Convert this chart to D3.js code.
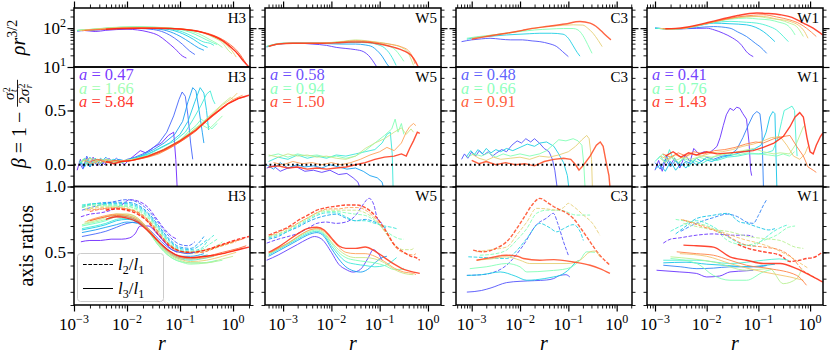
<!DOCTYPE html>
<html><head><meta charset="utf-8">
<script src="https://cdn.jsdelivr.net/npm/d3@7"></script>
<style>body{margin:0;background:#fff}svg{display:block}text{font-family:"Liberation Serif","Times New Roman",serif;fill:#000}</style>
</head><body><svg id="c" width="831" height="358"></svg>
<script>
// ---------- DATA: each line is a list of [log10 r, value] ----------
const panelNames = ["H3", "W5", "C3", "W1"];
const h3ALabels = ["0.47", "1.66", "5.84"];
const w5ALabels = ["0.58", "0.94", "1.50"];
const c3ALabels = ["0.48", "0.66", "0.91"];
const w1ALabels = ["0.41", "0.76", "1.43"];
const xTickExps = [-3, -2, -1, 0];

const h3Density = [
 [[-2.94,85],[-2.8,87],[-2.6,82],[-2.4,88],[-2.2,92],[-2.0,94],[-1.8,90],[-1.6,80],[-1.4,64],[-1.25,45],[-1.1,30],[-0.95,19],[-0.88,17]],
 [[-2.94,86],[-2.7,88],[-2.4,93],[-2.1,97],[-1.8,98],[-1.5,92],[-1.3,78],[-1.1,55],[-0.95,38],[-0.82,26],[-0.72,21]],
 [[-2.94,86],[-2.7,89],[-2.4,95],[-2.1,100],[-1.8,101],[-1.5,97],[-1.25,86],[-1.0,62],[-0.8,42],[-0.65,31],[-0.55,27]],
 [[-2.94,87],[-2.7,90],[-2.4,97],[-2.1,102],[-1.8,104],[-1.5,100],[-1.2,92],[-0.95,72],[-0.75,52],[-0.6,38],[-0.48,32]],
 [[-2.94,87],[-2.7,91],[-2.4,98],[-2.1,104],[-1.8,106],[-1.5,103],[-1.2,96],[-0.95,80],[-0.75,60],[-0.55,44],[-0.42,40],[-0.36,36]],
 [[-2.94,88],[-2.7,92],[-2.4,100],[-2.1,106],[-1.8,108],[-1.5,106],[-1.2,100],[-0.9,86],[-0.7,68],[-0.5,50],[-0.38,42],[-0.3,38]],
 [[-2.94,88],[-2.7,93],[-2.4,101],[-2.1,107],[-1.8,108],[-1.5,106],[-1.2,101],[-0.9,90],[-0.65,72],[-0.45,52],[-0.3,40],[-0.2,32]],
 [[-2.9,88],[-2.6,95],[-2.3,102],[-2.0,106],[-1.7,106],[-1.4,104],[-1.1,99],[-0.8,90],[-0.55,75],[-0.35,56],[-0.2,42],[-0.08,26],[-0.02,22]],
 [[-2.9,87],[-2.6,94],[-2.3,100],[-2.0,104],[-1.7,104],[-1.4,102],[-1.1,98],[-0.8,90],[-0.55,76],[-0.35,60],[-0.15,40],[0.0,24],[0.06,18]],
 [[-2.85,86],[-2.6,92],[-2.3,98],[-2.0,102],[-1.7,102],[-1.4,101],[-1.1,97],[-0.8,89],[-0.55,76],[-0.35,61],[-0.15,44],[0.05,25],[0.18,15]],
 [[-2.8,88],[-2.5,92],[-2.2,97],[-1.9,100],[-1.6,100],[-1.3,99],[-1.0,95],[-0.75,87],[-0.5,75],[-0.3,60],[-0.1,42],[0.1,24],[0.25,12]],
 [[-2.4,94],[-2.1,98],[-1.8,100],[-1.5,100],[-1.2,98],[-0.95,94],[-0.74,87],[-0.55,76],[-0.36,62],[-0.2,48],[-0.05,33],[0.1,21],[0.2,14],[0.3,10]]
];
const h3Beta = [
 [[-2.94,-0.05],[-2.88,0.05],[-2.82,-0.03],[-2.76,0.06],[-2.7,-0.02],[-2.64,0.07],[-2.57,-0.01],[-2.5,0.05],[-2.42,0.0],[-2.34,0.06],[-2.25,0.01],[-2.15,0.04],[-2.05,0.0],[-1.95,0.05],[-1.85,0.09],[-1.75,0.13],[-1.65,0.11],[-1.5,0.16],[-1.35,0.2],[-1.22,0.27],[-1.12,0.3],[-1.08,0.05],[-1.05,-0.25]],
 [[-2.9,0.02],[-2.83,-0.04],[-2.76,0.08],[-2.68,0.0],[-2.6,0.06],[-2.5,-0.01],[-2.4,0.05],[-2.3,0.02],[-2.2,0.06],[-2.1,0.02],[-2.0,0.05],[-1.85,0.07],[-1.7,0.1],[-1.55,0.14],[-1.4,0.2],[-1.25,0.3],[-1.12,0.45],[-1.02,0.6],[-0.96,0.67],[-0.9,0.63],[-0.85,0.45],[-0.8,0.2],[-0.76,0.05]],
 [[-2.9,0.0],[-2.8,0.06],[-2.7,-0.02],[-2.6,0.05],[-2.5,0.01],[-2.4,0.07],[-2.3,0.02],[-2.15,0.05],[-2.0,0.03],[-1.85,0.06],[-1.7,0.09],[-1.5,0.14],[-1.3,0.2],[-1.1,0.28],[-0.95,0.4],[-0.85,0.58],[-0.76,0.71],[-0.7,0.68],[-0.64,0.5],[-0.58,0.3],[-0.55,0.2]],
 [[-2.9,0.03],[-2.8,-0.02],[-2.7,0.07],[-2.6,0.01],[-2.5,0.06],[-2.4,0.02],[-2.25,0.05],[-2.1,0.02],[-1.95,0.05],[-1.8,0.07],[-1.6,0.1],[-1.4,0.15],[-1.2,0.2],[-1.0,0.28],[-0.85,0.4],[-0.72,0.58],[-0.62,0.71],[-0.55,0.66],[-0.5,0.5],[-0.46,0.32]],
 [[-2.9,0.01],[-2.8,0.05],[-2.7,-0.01],[-2.6,0.06],[-2.5,0.02],[-2.35,0.05],[-2.2,0.02],[-2.05,0.04],[-1.9,0.05],[-1.7,0.08],[-1.5,0.12],[-1.3,0.17],[-1.1,0.22],[-0.9,0.3],[-0.75,0.42],[-0.6,0.55],[-0.5,0.65],[-0.43,0.68],[-0.38,0.6],[-0.34,0.56]],
 [[-2.9,0.04],[-2.8,0.0],[-2.7,0.06],[-2.6,0.02],[-2.45,0.05],[-2.3,0.01],[-2.15,0.04],[-2.0,0.03],[-1.8,0.06],[-1.6,0.09],[-1.4,0.12],[-1.2,0.17],[-1.0,0.22],[-0.85,0.3],[-0.7,0.36],[-0.6,0.42],[-0.5,0.38],[-0.4,0.33],[-0.3,0.38]],
 [[-2.9,0.02],[-2.8,0.06],[-2.7,0.01],[-2.55,0.05],[-2.4,0.02],[-2.25,0.04],[-2.1,0.02],[-1.9,0.05],[-1.7,0.07],[-1.5,0.1],[-1.3,0.14],[-1.1,0.19],[-0.9,0.26],[-0.75,0.32],[-0.6,0.37],[-0.45,0.33],[-0.3,0.4],[-0.2,0.45]],
 [[-2.85,0.05],[-2.75,0.01],[-2.65,0.06],[-2.5,0.02],[-2.35,0.05],[-2.2,0.02],[-2.0,0.04],[-1.8,0.06],[-1.6,0.08],[-1.4,0.12],[-1.2,0.17],[-1.0,0.23],[-0.8,0.3],[-0.6,0.38],[-0.4,0.47],[-0.2,0.56],[-0.05,0.62],[0.0,0.6]],
 [[-2.85,0.03],[-2.7,0.06],[-2.55,0.01],[-2.4,0.05],[-2.25,0.02],[-2.05,0.04],[-1.85,0.05],[-1.6,0.08],[-1.4,0.11],[-1.2,0.16],[-1.0,0.22],[-0.8,0.29],[-0.6,0.37],[-0.4,0.46],[-0.2,0.55],[0.0,0.62],[0.08,0.66]],
 [[-2.8,0.04],[-2.65,0.01],[-2.5,0.05],[-2.35,0.02],[-2.2,0.04],[-2.0,0.03],[-1.8,0.05],[-1.6,0.07],[-1.4,0.1],[-1.2,0.15],[-1.0,0.21],[-0.8,0.28],[-0.6,0.36],[-0.4,0.45],[-0.2,0.53],[0.0,0.6],[0.18,0.64]],
 [[-2.7,0.03],[-2.55,0.05],[-2.4,0.02],[-2.25,0.04],[-2.1,0.03],[-1.9,0.04],[-1.7,0.06],[-1.5,0.09],[-1.3,0.13],[-1.1,0.18],[-0.9,0.24],[-0.7,0.31],[-0.5,0.4],[-0.3,0.48],[-0.1,0.56],[0.1,0.61],[0.25,0.63]],
 [[-2.4,0.03],[-2.25,0.01],[-2.1,0.03],[-1.9,0.04],[-1.6,0.08],[-1.3,0.14],[-1.0,0.22],[-0.7,0.32],[-0.4,0.45],[-0.1,0.56],[0.1,0.61],[0.3,0.64]]
];
const h3L2 = [
 [[-2.87,0.77],[-2.7,0.79],[-2.5,0.8],[-2.3,0.82],[-2.1,0.86],[-1.95,0.9],[-1.8,0.89],[-1.6,0.84],[-1.45,0.76],[-1.3,0.68],[-1.15,0.62],[-1.05,0.6]],
 [[-2.85,0.82],[-2.6,0.85],[-2.3,0.88],[-2.0,0.9],[-1.8,0.88],[-1.6,0.82],[-1.4,0.72],[-1.2,0.62],[-1.0,0.56],[-0.85,0.55],[-0.72,0.58]],
 [[-2.85,0.84],[-2.6,0.87],[-2.3,0.88],[-2.0,0.88],[-1.8,0.86],[-1.6,0.8],[-1.4,0.7],[-1.2,0.6],[-1.0,0.54],[-0.8,0.53],[-0.65,0.57],[-0.55,0.62]],
 [[-2.85,0.85],[-2.6,0.87],[-2.3,0.87],[-2.0,0.87],[-1.8,0.85],[-1.6,0.79],[-1.4,0.69],[-1.2,0.59],[-1.0,0.53],[-0.8,0.52],[-0.6,0.56],[-0.48,0.6]],
 [[-2.85,0.86],[-2.6,0.87],[-2.3,0.86],[-2.0,0.86],[-1.8,0.84],[-1.6,0.78],[-1.4,0.68],[-1.2,0.58],[-1.0,0.52],[-0.8,0.51],[-0.6,0.53],[-0.45,0.6],[-0.36,0.63]],
 [[-2.85,0.85],[-2.6,0.86],[-2.3,0.86],[-2.0,0.85],[-1.8,0.83],[-1.6,0.77],[-1.4,0.67],[-1.2,0.57],[-1.0,0.51],[-0.8,0.5],[-0.6,0.52],[-0.45,0.56],[-0.3,0.6]],
 [[-2.85,0.84],[-2.6,0.86],[-2.3,0.85],[-2.0,0.85],[-1.8,0.82],[-1.6,0.76],[-1.4,0.66],[-1.2,0.56],[-1.0,0.51],[-0.8,0.5],[-0.6,0.51],[-0.4,0.53],[-0.2,0.58]],
 [[-2.8,0.83],[-2.5,0.85],[-2.2,0.85],[-2.0,0.84],[-1.8,0.81],[-1.6,0.75],[-1.4,0.65],[-1.2,0.56],[-1.0,0.51],[-0.8,0.5],[-0.5,0.52],[-0.2,0.55],[0.0,0.58]],
 [[-2.8,0.82],[-2.5,0.84],[-2.2,0.84],[-2.0,0.83],[-1.8,0.8],[-1.6,0.74],[-1.4,0.64],[-1.2,0.55],[-1.0,0.5],[-0.8,0.49],[-0.5,0.51],[-0.2,0.55],[0.06,0.58]],
 [[-2.75,0.82],[-2.5,0.83],[-2.2,0.84],[-2.0,0.83],[-1.8,0.8],[-1.6,0.73],[-1.4,0.63],[-1.2,0.55],[-1.0,0.5],[-0.8,0.5],[-0.5,0.52],[-0.2,0.56],[0.18,0.6]],
 [[-2.7,0.81],[-2.4,0.83],[-2.1,0.83],[-1.9,0.82],[-1.7,0.78],[-1.5,0.7],[-1.3,0.6],[-1.1,0.53],[-0.9,0.5],[-0.6,0.5],[-0.3,0.54],[0.0,0.58],[0.25,0.61]],
 [[-2.4,0.82],[-2.2,0.83],[-2.0,0.82],[-1.8,0.79],[-1.6,0.73],[-1.4,0.63],[-1.2,0.55],[-1.0,0.51],[-0.8,0.5],[-0.5,0.52],[-0.2,0.56],[0.1,0.6],[0.3,0.62]]
];
const h3L3 = [
 [[-2.87,0.58],[-2.7,0.59],[-2.5,0.59],[-2.3,0.6],[-2.1,0.6],[-1.95,0.61],[-1.85,0.64],[-1.75,0.7],[-1.6,0.7],[-1.45,0.65],[-1.3,0.58],[-1.15,0.52],[-1.05,0.5]],
 [[-2.85,0.62],[-2.6,0.64],[-2.4,0.66],[-2.2,0.69],[-2.0,0.72],[-1.8,0.73],[-1.6,0.68],[-1.4,0.6],[-1.2,0.53],[-1.0,0.5],[-0.85,0.49],[-0.72,0.5]],
 [[-2.85,0.65],[-2.6,0.67],[-2.4,0.69],[-2.2,0.71],[-2.0,0.73],[-1.8,0.72],[-1.6,0.67],[-1.4,0.58],[-1.2,0.51],[-1.0,0.47],[-0.8,0.47],[-0.55,0.49]],
 [[-2.85,0.67],[-2.6,0.69],[-2.4,0.71],[-2.2,0.74],[-2.0,0.75],[-1.8,0.73],[-1.6,0.67],[-1.4,0.57],[-1.2,0.5],[-1.0,0.46],[-0.8,0.45],[-0.6,0.47],[-0.48,0.48]],
 [[-2.85,0.68],[-2.6,0.7],[-2.4,0.72],[-2.2,0.75],[-2.0,0.76],[-1.8,0.74],[-1.6,0.67],[-1.4,0.57],[-1.2,0.49],[-1.0,0.45],[-0.8,0.44],[-0.6,0.45],[-0.36,0.47]],
 [[-2.85,0.7],[-2.6,0.72],[-2.4,0.74],[-2.2,0.77],[-2.0,0.77],[-1.8,0.74],[-1.6,0.66],[-1.4,0.55],[-1.2,0.47],[-1.0,0.43],[-0.8,0.42],[-0.6,0.42],[-0.4,0.43],[-0.3,0.44]],
 [[-2.85,0.71],[-2.6,0.73],[-2.4,0.75],[-2.2,0.78],[-2.0,0.78],[-1.8,0.75],[-1.6,0.66],[-1.4,0.55],[-1.2,0.47],[-1.0,0.43],[-0.8,0.41],[-0.5,0.42],[-0.2,0.44]],
 [[-2.8,0.72],[-2.5,0.75],[-2.2,0.79],[-2.0,0.79],[-1.8,0.76],[-1.6,0.67],[-1.4,0.56],[-1.2,0.48],[-1.0,0.44],[-0.8,0.42],[-0.5,0.42],[-0.2,0.45],[0.0,0.47]],
 [[-2.8,0.73],[-2.5,0.76],[-2.2,0.79],[-2.0,0.79],[-1.8,0.76],[-1.6,0.68],[-1.4,0.57],[-1.2,0.49],[-1.0,0.45],[-0.8,0.43],[-0.5,0.44],[-0.2,0.47],[0.06,0.5]],
 [[-2.75,0.74],[-2.5,0.77],[-2.2,0.79],[-2.0,0.78],[-1.8,0.75],[-1.6,0.68],[-1.4,0.58],[-1.2,0.5],[-1.0,0.46],[-0.8,0.45],[-0.5,0.46],[-0.2,0.49],[0.18,0.53]],
 [[-2.7,0.74],[-2.4,0.77],[-2.2,0.78],[-2.0,0.77],[-1.8,0.74],[-1.6,0.67],[-1.4,0.58],[-1.2,0.51],[-1.0,0.47],[-0.8,0.46],[-0.5,0.47],[-0.2,0.5],[0.1,0.53],[0.25,0.55]],
 [[-2.4,0.75],[-2.2,0.77],[-2.0,0.76],[-1.8,0.73],[-1.6,0.66],[-1.4,0.58],[-1.2,0.51],[-1.0,0.47],[-0.8,0.46],[-0.5,0.47],[-0.2,0.49],[0.1,0.52],[0.3,0.54]]
];

const w5Density = [
 [[-3.34,33],[-3.15,38],[-3.0,40],[-2.7,41],[-2.4,39],[-2.1,36],[-1.9,32],[-1.7,30],[-1.5,28],[-1.34,25],[-1.2,18],[-1.1,12],[-1.06,10]],
 [[-3.34,33],[-3.15,38],[-3.0,40],[-2.7,41],[-2.4,41],[-2.1,40],[-1.8,39],[-1.5,39],[-1.3,37],[-1.15,33],[-1.06,27],[-0.95,19],[-0.85,12],[-0.8,10]],
 [[-3.34,34],[-3.15,39],[-3.0,41],[-2.7,41],[-2.4,41],[-2.1,41],[-1.8,42],[-1.5,43],[-1.25,42],[-1.05,38],[-0.9,31],[-0.78,21],[-0.7,14],[-0.66,11]],
 [[-3.34,34],[-3.15,39],[-3.0,41],[-2.7,41],[-2.4,41],[-2.1,42],[-1.8,44],[-1.55,47],[-1.3,45],[-1.05,41],[-0.85,36],[-0.68,28],[-0.57,19],[-0.5,14]],
 [[-3.3,34],[-3.1,39],[-2.9,41],[-2.6,41],[-2.3,41],[-2.0,43],[-1.75,46],[-1.5,50],[-1.25,47],[-1.0,43],[-0.75,38],[-0.55,32],[-0.42,24],[-0.35,16],[-0.3,11]],
 [[-3.3,34],[-3.1,39],[-2.9,41],[-2.6,41],[-2.3,41],[-2.0,42],[-1.75,45],[-1.5,48],[-1.25,46],[-1.0,42],[-0.75,38],[-0.55,33],[-0.4,26],[-0.32,18],[-0.27,12]],
 [[-3.3,34],[-3.1,39],[-2.8,41],[-2.5,41],[-2.2,41],[-1.9,42],[-1.6,44],[-1.35,44],[-1.1,41],[-0.9,37],[-0.7,32],[-0.5,26],[-0.35,20],[-0.26,14],[-0.2,10]]
];
const w5Beta = [
 [[-3.34,-0.03],[-3.2,-0.01],[-3.06,-0.06],[-2.9,-0.03],[-2.72,-0.02],[-2.55,-0.06],[-2.37,-0.05],[-2.2,-0.07],[-2.03,-0.05],[-1.85,-0.09],[-1.68,-0.08],[-1.55,-0.12],[-1.45,-0.16],[-1.38,-0.25]],
 [[-3.34,0.0],[-3.2,-0.04],[-3.06,0.02],[-2.9,-0.03],[-2.72,0.0],[-2.55,-0.02],[-2.37,-0.01],[-2.2,-0.03],[-2.03,0.0],[-1.85,-0.02],[-1.68,-0.04],[-1.5,-0.03],[-1.34,-0.06],[-1.2,-0.1],[-1.05,-0.12],[-0.95,-0.16],[-0.9,-0.25]],
 [[-3.3,0.03],[-3.1,0.07],[-2.9,0.05],[-2.7,0.09],[-2.5,0.06],[-2.3,0.08],[-2.1,0.06],[-1.9,0.09],[-1.7,0.08],[-1.5,0.1],[-1.3,0.12],[-1.1,0.14],[-0.95,0.2],[-0.85,0.28],[-0.78,0.3],[-0.74,0.1],[-0.72,-0.25]],
 [[-3.3,0.08],[-3.1,0.1],[-2.9,0.07],[-2.7,0.1],[-2.5,0.08],[-2.3,0.09],[-2.1,0.07],[-1.9,0.08],[-1.7,0.06],[-1.5,0.08],[-1.3,0.13],[-1.1,0.2],[-0.9,0.27],[-0.75,0.33],[-0.68,0.42],[-0.62,0.3],[-0.55,0.38],[-0.5,0.28]],
 [[-3.3,0.09],[-3.1,0.07],[-2.9,0.1],[-2.7,0.08],[-2.5,0.09],[-2.3,0.07],[-2.1,0.08],[-1.9,0.06],[-1.7,0.05],[-1.5,0.08],[-1.3,0.15],[-1.1,0.2],[-0.9,0.24],[-0.7,0.3],[-0.55,0.34],[-0.45,0.28],[-0.35,0.33],[-0.3,0.3]],
 [[-3.2,0.02],[-3.0,0.0],[-2.8,0.03],[-2.6,0.01],[-2.4,0.02],[-2.2,0.0],[-2.0,0.02],[-1.8,0.0],[-1.6,0.02],[-1.4,0.05],[-1.2,0.09],[-1.0,0.12],[-0.85,0.16],[-0.7,0.13],[-0.55,0.2],[-0.45,0.3],[-0.38,0.35],[-0.3,0.38],[-0.25,0.36]],
 [[-3.3,-0.02],[-3.1,-0.01],[-2.9,-0.03],[-2.7,-0.02],[-2.5,-0.04],[-2.3,-0.03],[-2.1,-0.04],[-1.9,-0.03],[-1.7,-0.02],[-1.5,0.0],[-1.3,0.02],[-1.1,0.05],[-0.9,0.07],[-0.7,0.08],[-0.55,0.1],[-0.45,0.08],[-0.38,0.15],[-0.3,0.22],[-0.22,0.3],[-0.17,0.29]]
];
const w5L2 = [
 [[-3.34,0.57],[-3.1,0.6],[-2.9,0.62],[-2.72,0.64],[-2.5,0.68],[-2.3,0.72],[-2.1,0.73],[-1.9,0.72],[-1.7,0.73],[-1.5,0.78],[-1.35,0.86],[-1.22,0.91],[-1.12,0.86],[-1.05,0.76],[-0.95,0.72]],
 [[-3.3,0.6],[-3.1,0.62],[-2.9,0.66],[-2.7,0.69],[-2.5,0.73],[-2.3,0.76],[-2.1,0.78],[-1.9,0.79],[-1.7,0.76],[-1.5,0.74],[-1.3,0.75],[-1.1,0.73],[-0.95,0.7],[-0.85,0.68]],
 [[-3.3,0.61],[-3.1,0.63],[-2.9,0.66],[-2.7,0.7],[-2.5,0.74],[-2.3,0.78],[-2.1,0.8],[-1.9,0.8],[-1.7,0.77],[-1.5,0.74],[-1.3,0.74],[-1.1,0.72],[-0.9,0.7],[-0.75,0.69],[-0.65,0.68]],
 [[-3.3,0.62],[-3.1,0.64],[-2.9,0.67],[-2.7,0.71],[-2.5,0.75],[-2.3,0.79],[-2.1,0.81],[-1.9,0.81],[-1.7,0.8],[-1.5,0.79],[-1.3,0.78],[-1.1,0.74],[-0.9,0.67],[-0.7,0.62],[-0.55,0.6],[-0.5,0.6]],
 [[-3.3,0.62],[-3.1,0.64],[-2.9,0.67],[-2.7,0.72],[-2.5,0.76],[-2.3,0.8],[-2.1,0.82],[-1.9,0.82],[-1.7,0.82],[-1.5,0.82],[-1.3,0.8],[-1.1,0.75],[-0.9,0.66],[-0.7,0.56],[-0.5,0.52],[-0.35,0.52],[-0.3,0.53]],
 [[-3.25,0.63],[-3.05,0.66],[-2.85,0.69],[-2.65,0.73],[-2.45,0.77],[-2.25,0.81],[-2.05,0.83],[-1.85,0.83],[-1.65,0.84],[-1.45,0.84],[-1.25,0.81],[-1.05,0.74],[-0.85,0.64],[-0.65,0.53],[-0.45,0.49],[-0.3,0.48],[-0.25,0.49]],
 [[-3.3,0.63],[-3.1,0.66],[-2.9,0.69],[-2.7,0.74],[-2.5,0.78],[-2.3,0.82],[-2.1,0.84],[-1.9,0.85],[-1.7,0.86],[-1.5,0.86],[-1.3,0.84],[-1.1,0.78],[-0.9,0.68],[-0.7,0.56],[-0.5,0.5],[-0.35,0.47],[-0.25,0.46],[-0.17,0.44]]
];
const w5L3 = [
 [[-3.34,0.44],[-3.1,0.48],[-2.9,0.52],[-2.7,0.56],[-2.5,0.6],[-2.35,0.62],[-2.2,0.6],[-2.0,0.5],[-1.85,0.41],[-1.7,0.37],[-1.55,0.35],[-1.4,0.37],[-1.25,0.45],[-1.13,0.52],[-1.05,0.5],[-0.95,0.44]],
 [[-3.3,0.47],[-3.1,0.51],[-2.9,0.55],[-2.7,0.59],[-2.5,0.63],[-2.3,0.65],[-2.15,0.62],[-2.0,0.53],[-1.85,0.45],[-1.7,0.39],[-1.55,0.36],[-1.4,0.35],[-1.25,0.37],[-1.1,0.42],[-0.95,0.46],[-0.85,0.47]],
 [[-3.3,0.48],[-3.1,0.52],[-2.9,0.56],[-2.7,0.6],[-2.5,0.64],[-2.3,0.66],[-2.15,0.63],[-2.0,0.55],[-1.85,0.48],[-1.7,0.43],[-1.5,0.41],[-1.3,0.4],[-1.1,0.39],[-0.9,0.4],[-0.75,0.43],[-0.65,0.46]],
 [[-3.3,0.49],[-3.1,0.53],[-2.9,0.57],[-2.7,0.61],[-2.5,0.65],[-2.3,0.67],[-2.15,0.64],[-2.0,0.57],[-1.85,0.5],[-1.7,0.46],[-1.5,0.44],[-1.3,0.43],[-1.1,0.42],[-0.9,0.4],[-0.7,0.37],[-0.55,0.37],[-0.5,0.38]],
 [[-3.3,0.49],[-3.1,0.53],[-2.9,0.57],[-2.7,0.62],[-2.5,0.66],[-2.3,0.68],[-2.15,0.65],[-2.0,0.58],[-1.85,0.52],[-1.7,0.48],[-1.5,0.46],[-1.3,0.46],[-1.1,0.45],[-0.9,0.42],[-0.7,0.37],[-0.5,0.34],[-0.3,0.33]],
 [[-3.25,0.5],[-3.05,0.54],[-2.85,0.58],[-2.65,0.63],[-2.45,0.67],[-2.3,0.68],[-2.15,0.66],[-2.0,0.6],[-1.85,0.54],[-1.7,0.5],[-1.5,0.49],[-1.3,0.49],[-1.1,0.47],[-0.9,0.43],[-0.7,0.38],[-0.5,0.35],[-0.3,0.34],[-0.25,0.33]],
 [[-3.3,0.5],[-3.1,0.54],[-2.9,0.59],[-2.7,0.64],[-2.5,0.68],[-2.3,0.69],[-2.15,0.67],[-2.0,0.61],[-1.85,0.55],[-1.7,0.53],[-1.5,0.53],[-1.3,0.54],[-1.1,0.51],[-0.9,0.46],[-0.7,0.41],[-0.5,0.37],[-0.3,0.35],[-0.17,0.34]]
];

const c3Density = [
 [[-3.21,45],[-3.0,50],[-2.8,53],[-2.62,55],[-2.4,52],[-2.2,50],[-1.95,50],[-1.75,47],[-1.59,45],[-1.4,40],[-1.24,33.5],[-1.12,25],[-1.0,18.5]],
 [[-3.1,52],[-2.9,58],[-2.6,62],[-2.28,67],[-2.0,70],[-1.8,72],[-1.59,74],[-1.35,74],[-1.11,70],[-1.0,55],[-0.9,35],[-0.82,24],[-0.76,19]],
 [[-3.1,55],[-2.9,60],[-2.6,66],[-2.28,74],[-2.0,82],[-1.7,90],[-1.38,95],[-1.1,98],[-0.9,98],[-0.8,90],[-0.7,65],[-0.6,38],[-0.51,22.5]],
 [[-3.0,55],[-2.8,60],[-2.6,66],[-2.28,74],[-2.0,85],[-1.59,105],[-1.24,115],[-0.9,122],[-0.7,120],[-0.6,100],[-0.49,74],[-0.38,48],[-0.3,33.5]],
 [[-3.0,52],[-2.8,58],[-2.6,64],[-2.28,74],[-1.95,88],[-1.8,96],[-1.4,112],[-1.07,128],[-0.76,148],[-0.55,135],[-0.38,100],[-0.25,70],[-0.12,50]]
];
const c3Beta = [
 [[-3.21,0.05],[-3.15,0.1],[-3.08,0.06],[-3.0,0.12],[-2.92,0.08],[-2.84,0.13],[-2.75,0.09],[-2.66,0.12],[-2.57,0.08],[-2.48,0.11],[-2.38,0.14],[-2.28,0.12],[-2.17,0.18],[-2.06,0.22],[-1.97,0.2],[-1.88,0.24],[-1.78,0.21],[-1.7,0.24],[-1.6,0.2],[-1.5,0.15],[-1.4,0.12],[-1.33,0.05],[-1.28,-0.05],[-1.22,-0.25]],
 [[-3.1,0.08],[-3.02,0.13],[-2.95,0.09],[-2.87,0.14],[-2.78,0.1],[-2.7,0.15],[-2.6,0.11],[-2.5,0.14],[-2.4,0.12],[-2.28,0.15],[-2.15,0.13],[-2.0,0.16],[-1.85,0.19],[-1.7,0.17],[-1.59,0.2],[-1.45,0.21],[-1.3,0.17],[-1.2,0.1],[-1.1,0.02],[-1.02,-0.1],[-0.98,-0.25]],
 [[-3.1,0.07],[-2.95,0.1],[-2.8,0.08],[-2.65,0.11],[-2.5,0.07],[-2.35,0.1],[-2.2,0.08],[-2.0,0.1],[-1.8,0.08],[-1.6,0.1],[-1.45,0.13],[-1.3,0.19],[-1.2,0.23],[-1.05,0.22],[-0.9,0.24],[-0.8,0.22],[-0.72,0.18],[-0.68,0.0],[-0.65,-0.25]],
 [[-3.0,0.1],[-2.85,0.06],[-2.7,0.04],[-2.55,0.07],[-2.4,0.05],[-2.2,0.06],[-2.0,0.07],[-1.8,0.05],[-1.6,0.08],[-1.4,0.07],[-1.2,0.09],[-1.0,0.12],[-0.85,0.17],[-0.72,0.23],[-0.62,0.27],[-0.57,0.24],[-0.52,0.05],[-0.5,-0.25]],
 [[-3.0,0.04],[-2.85,0.01],[-2.7,0.03],[-2.5,0.0],[-2.3,0.02],[-2.1,0.0],[-1.9,0.01],[-1.7,-0.01],[-1.5,0.03],[-1.3,0.05],[-1.1,0.06],[-0.95,0.05],[-0.85,0.0],[-0.78,-0.05],[-0.68,0.0],[-0.55,0.08],[-0.42,0.18],[-0.34,0.21],[-0.28,0.17],[-0.22,0.03],[-0.16,-0.1],[-0.13,-0.25]]
];
const c3L2 = [
 [[-3.1,0.325],[-2.8,0.33],[-2.62,0.34],[-2.28,0.402],[-1.93,0.555],[-1.66,0.71],[-1.45,0.76],[-1.31,0.796],[-1.22,0.72],[-1.1,0.58],[-1.0,0.478]],
 [[-3.07,0.466],[-2.7,0.46],[-2.28,0.453],[-2.05,0.52],[-1.86,0.605],[-1.59,0.72],[-1.4,0.69],[-1.24,0.656],[-1.1,0.68],[-0.9,0.71],[-0.76,0.66],[-0.69,0.59]],
 [[-2.83,0.478],[-2.5,0.49],[-2.28,0.517],[-2.05,0.6],[-1.86,0.68],[-1.66,0.796],[-1.45,0.82],[-1.17,0.82],[-0.83,0.783],[-0.55,0.783]],
 [[-2.9,0.504],[-2.6,0.52],[-2.28,0.54],[-2.05,0.64],[-1.86,0.73],[-1.66,0.834],[-1.45,0.83],[-1.24,0.82],[-1.1,0.84],[-1.0,0.872],[-0.9,0.85],[-0.69,0.783],[-0.5,0.72],[-0.35,0.63]],
 [[-2.97,0.517],[-2.76,0.504],[-2.5,0.53],[-2.28,0.58],[-1.93,0.758],[-1.75,0.86],[-1.59,0.91],[-1.4,0.87],[-1.24,0.834],[-1.0,0.79],[-0.9,0.758],[-0.7,0.66],[-0.55,0.58],[-0.35,0.478],[-0.25,0.44],[-0.14,0.402]]
];
const c3L3 = [
 [[-3.1,0.198],[-2.8,0.21],[-2.6,0.23],[-2.28,0.27],[-2.0,0.28],[-1.7,0.285],[-1.45,0.29],[-1.31,0.3],[-1.17,0.325],[-1.05,0.33],[-0.97,0.313]],
 [[-3.1,0.325],[-2.8,0.33],[-2.41,0.351],[-2.1,0.32],[-1.86,0.288],[-1.5,0.3],[-1.31,0.313],[-1.17,0.325],[-0.97,0.376],[-0.83,0.43],[-0.76,0.44]],
 [[-3.04,0.376],[-2.7,0.39],[-2.28,0.415],[-2.0,0.39],[-1.86,0.351],[-1.4,0.36],[-1.03,0.376],[-0.76,0.44],[-0.62,0.504],[-0.45,0.5]],
 [[-2.9,0.44],[-2.6,0.45],[-2.28,0.466],[-2.0,0.44],[-1.8,0.415],[-1.4,0.415],[-1.03,0.415],[-0.76,0.44],[-0.55,0.504],[-0.45,0.51],[-0.35,0.466]],
 [[-2.9,0.44],[-2.6,0.46],[-2.28,0.478],[-2.05,0.47],[-1.93,0.453],[-1.59,0.44],[-1.3,0.445],[-0.9,0.427],[-0.55,0.402],[-0.35,0.376],[-0.14,0.34]]
];

const w1Density = [
 [[-3.0,100],[-2.8,97],[-2.6,96],[-2.4,97],[-2.2,99],[-2.0,100],[-1.85,90],[-1.68,74],[-1.5,56],[-1.36,41],[-1.2,22.5],[-1.1,18.5]],
 [[-3.0,100],[-2.8,97],[-2.6,96],[-2.4,98],[-2.2,103],[-1.87,110],[-1.55,100],[-1.4,80],[-1.23,61],[-1.05,40],[-0.97,33.5],[-0.84,22.5]],
 [[-3.0,100],[-2.8,96],[-2.6,95],[-2.4,100],[-2.2,112],[-1.87,135],[-1.55,130],[-1.23,122],[-1.05,105],[-0.905,82],[-0.78,60],[-0.68,45]],
 [[-3.0,100],[-2.8,96],[-2.6,96],[-2.4,102],[-2.2,115],[-1.87,138],[-1.55,150],[-1.23,142],[-1.03,135],[-0.8,112],[-0.65,90],[-0.52,62],[-0.42,45]],
 [[-2.95,100],[-2.75,96],[-2.55,97],[-2.35,105],[-2.15,120],[-1.87,145],[-1.55,170],[-1.23,182],[-1.0,172],[-0.78,163],[-0.6,142],[-0.45,122],[-0.35,90],[-0.29,67]],
 [[-2.9,98],[-2.7,95],[-2.5,97],[-2.3,106],[-2.1,122],[-1.87,145],[-1.55,175],[-1.23,195],[-1.03,200],[-0.8,180],[-0.58,163],[-0.4,135],[-0.26,110],[-0.13,61]],
 [[-2.9,98],[-2.7,95],[-2.5,97],[-2.3,106],[-2.1,124],[-1.87,148],[-1.55,178],[-1.23,198],[-0.905,200],[-0.65,172],[-0.39,150],[-0.13,90],[-0.04,55]],
 [[-2.85,97],[-2.65,96],[-2.45,100],[-2.25,112],[-2.0,132],[-1.7,162],[-1.4,195],[-1.1,215],[-0.905,222],[-0.65,195],[-0.39,163],[-0.2,130],[-0.07,100],[0.12,61]],
 [[-2.8,97],[-2.6,99],[-2.4,106],[-2.2,120],[-2.0,138],[-1.7,172],[-1.4,212],[-1.03,245],[-0.8,238],[-0.58,222],[-0.35,190],[-0.13,135],[0.06,100],[0.245,67]]
];
const w1Beta = [
 [[-3.0,-0.05],[-2.93,0.04],[-2.86,-0.06],[-2.78,0.08],[-2.7,0.0],[-2.62,0.06],[-2.52,-0.03],[-2.42,0.09],[-2.32,0.03],[-2.25,0.15],[-2.15,0.1],[-2.05,0.12],[-1.95,0.11],[-1.87,0.14],[-1.8,0.17],[-1.74,0.25],[-1.68,0.36],[-1.62,0.46],[-1.55,0.52],[-1.48,0.5],[-1.42,0.53],[-1.36,0.52],[-1.3,0.47],[-1.23,0.42],[-1.18,0.2],[-1.15,-0.05],[-1.13,-0.1]],
 [[-3.0,0.02],[-2.9,-0.04],[-2.8,0.05],[-2.7,-0.02],[-2.6,0.04],[-2.5,-0.01],[-2.4,0.03],[-2.3,0.01],[-2.2,0.06],[-2.1,0.03],[-2.0,0.07],[-1.87,0.05],[-1.7,0.08],[-1.55,0.09],[-1.42,0.14],[-1.3,0.25],[-1.2,0.36],[-1.1,0.46],[-1.03,0.49],[-0.97,0.47],[-0.93,0.3],[-0.9,-0.25]],
 [[-3.0,-0.04],[-2.9,0.0],[-2.8,-0.06],[-2.7,0.03],[-2.6,-0.05],[-2.5,0.01],[-2.4,-0.03],[-2.3,0.04],[-2.2,0.0],[-2.05,0.05],[-1.9,0.03],[-1.7,0.07],[-1.5,0.09],[-1.3,0.12],[-1.1,0.14],[-0.95,0.18],[-0.85,0.3],[-0.78,0.44],[-0.72,0.49],[-0.68,0.47],[-0.66,0.1],[-0.64,-0.25]],
 [[-3.0,0.03],[-2.9,0.08],[-2.8,0.02],[-2.72,0.14],[-2.65,0.05],[-2.55,0.01],[-2.45,0.06],[-2.35,-0.02],[-2.25,0.04],[-2.1,0.01],[-1.95,0.05],[-1.8,0.04],[-1.6,0.07],[-1.4,0.08],[-1.2,0.1],[-1.0,0.1],[-0.85,0.11],[-0.72,0.13],[-0.62,0.25],[-0.55,0.4],[-0.5,0.5],[-0.42,0.52],[-0.35,0.54],[-0.3,0.5],[-0.27,0.2],[-0.25,0.08]],
 [[-2.95,0.05],[-2.85,0.1],[-2.75,0.03],[-2.65,0.08],[-2.55,0.02],[-2.45,0.06],[-2.3,0.03],[-2.15,0.07],[-2.0,0.05],[-1.8,0.08],[-1.6,0.1],[-1.4,0.09],[-1.2,0.11],[-1.0,0.1],[-0.8,0.09],[-0.65,0.08],[-0.52,0.1],[-0.4,0.08],[-0.3,0.12]],
 [[-2.9,0.06],[-2.8,0.02],[-2.7,0.08],[-2.6,0.04],[-2.45,0.07],[-2.3,0.05],[-2.1,0.08],[-1.9,0.07],[-1.7,0.1],[-1.5,0.11],[-1.3,0.13],[-1.1,0.15],[-0.905,0.12],[-0.7,0.1],[-0.58,0.11],[-0.4,0.1],[-0.26,0.2],[-0.13,0.35],[-0.1,0.36]],
 [[-2.9,0.08],[-2.75,0.05],[-2.6,0.09],[-2.45,0.06],[-2.3,0.1],[-2.1,0.08],[-1.9,0.11],[-1.7,0.12],[-1.5,0.14],[-1.3,0.17],[-1.1,0.19],[-0.905,0.22],[-0.75,0.25],[-0.58,0.26],[-0.45,0.18],[-0.32,0.08],[-0.2,0.05],[-0.1,0.1],[-0.04,0.17]],
 [[-2.85,0.1],[-2.7,0.07],[-2.55,0.11],[-2.4,0.08],[-2.25,0.12],[-2.05,0.1],[-1.85,0.13],[-1.65,0.14],[-1.45,0.16],[-1.25,0.19],[-1.05,0.21],[-0.905,0.2],[-0.7,0.24],[-0.52,0.26],[-0.39,0.27],[-0.26,0.17],[-0.13,0.08],[-0.04,-0.02],[0.06,-0.05],[0.12,-0.07]],
 [[-2.8,0.08],[-2.65,0.12],[-2.5,0.07],[-2.35,0.11],[-2.2,0.09],[-2.0,0.12],[-1.8,0.1],[-1.55,0.11],[-1.3,0.12],[-1.1,0.13],[-0.905,0.16],[-0.7,0.2],[-0.52,0.26],[-0.39,0.35],[-0.29,0.44],[-0.2,0.48],[-0.13,0.44],[-0.06,0.25],[0.0,0.12],[0.06,0.1],[0.12,0.18],[0.2,0.26],[0.245,0.29]]
];
const w1L2 = [
 [[-2.84,0.57],[-2.7,0.6],[-2.52,0.61],[-2.2,0.63],[-1.87,0.64],[-1.55,0.63],[-1.23,0.63],[-1.1,0.62]],
 [[-2.5,0.66],[-2.2,0.72],[-1.9,0.76],[-1.6,0.79],[-1.4,0.77],[-1.23,0.73],[-1.1,0.72],[-1.0,0.78],[-0.9,0.86],[-0.84,0.9]],
 [[-2.6,0.64],[-2.4,0.7],[-2.19,0.758],[-1.9,0.78],[-1.6,0.796],[-1.36,0.73],[-1.23,0.72],[-1.0,0.69],[-0.8,0.67],[-0.68,0.68]],
 [[-2.7,0.66],[-2.5,0.7],[-2.2,0.74],[-1.9,0.7],[-1.6,0.62],[-1.3,0.56],[-1.1,0.55],[-0.9,0.6],[-0.7,0.66],[-0.5,0.7],[-0.42,0.71]],
 [[-2.6,0.75],[-2.32,0.73],[-1.87,0.68],[-1.55,0.58],[-1.23,0.555],[-0.905,0.59],[-0.65,0.63],[-0.42,0.69],[-0.29,0.7]],
 [[-2.45,0.72],[-2.0,0.68],[-1.55,0.656],[-1.2,0.62],[-0.905,0.605],[-0.58,0.59],[-0.29,0.54],[-0.13,0.53]],
 [[-2.5,0.75],[-2.2,0.72],[-1.9,0.68],[-1.6,0.64],[-1.3,0.6],[-1.0,0.57],[-0.7,0.53],[-0.4,0.47],[-0.2,0.42],[-0.04,0.38]],
 [[-2.45,0.745],[-2.19,0.71],[-1.68,0.64],[-1.23,0.555],[-0.9,0.54],[-0.58,0.517],[-0.35,0.46],[-0.13,0.36],[0.0,0.33],[0.12,0.3]],
 [[-1.4,0.56],[-1.2,0.53],[-0.905,0.504],[-0.58,0.478],[-0.39,0.43],[-0.2,0.44],[-0.07,0.453],[0.06,0.46],[0.245,0.504]]
];
const w1L3 = [
 [[-2.97,0.364],[-2.52,0.351],[-2.2,0.34],[-2.0,0.313],[-1.75,0.32],[-1.55,0.351],[-1.23,0.36],[-1.1,0.364]],
 [[-2.84,0.402],[-2.5,0.39],[-2.19,0.376],[-1.87,0.38],[-1.55,0.39],[-1.2,0.39],[-1.03,0.39],[-0.84,0.4]],
 [[-2.84,0.42],[-2.4,0.425],[-2.0,0.41],[-1.6,0.4],[-1.2,0.39],[-0.9,0.4],[-0.68,0.41]],
 [[-2.84,0.44],[-2.19,0.44],[-1.55,0.415],[-0.905,0.44],[-0.6,0.45],[-0.42,0.44]],
 [[-2.7,0.453],[-2.19,0.415],[-1.87,0.325],[-1.55,0.288],[-1.23,0.288],[-0.905,0.351],[-0.75,0.37]],
 [[-2.7,0.466],[-1.87,0.427],[-1.23,0.364],[-0.78,0.376],[-0.52,0.262],[-0.26,0.3],[-0.16,0.376]],
 [[-2.52,0.49],[-2.0,0.47],[-1.55,0.415],[-0.905,0.351],[-0.39,0.313],[-0.13,0.288]],
 [[-2.58,0.504],[-2.2,0.49],[-1.87,0.478],[-1.55,0.44],[-1.23,0.402],[-0.78,0.376],[-0.26,0.325],[-0.07,0.25]],
 [[-2.45,0.555],[-2.2,0.55],[-1.87,0.54],[-1.55,0.466],[-1.23,0.44],[-0.905,0.415],[-0.58,0.415],[-0.26,0.376],[0.06,0.313],[0.245,0.274]]
];

// log10 r ranges of the four columns
const xRanges = [[-3, 0.32], [-3.375, 0.27], [-3.325, 0.317], [-3.155, 0.25]];

// ---------- DRAWING ----------
const svg = d3.select("#c");
const W = 176;
const colLeft = [74, 265, 456, 647];
const rowTop = [8, 67, 186.5], rowBot = [67, 186.5, 305];

function rainbow(t) {
  const r = Math.min(1, Math.abs(2 * t - 0.5)), g = Math.sin(Math.PI * t), b = Math.cos(Math.PI * t / 2);
  return d3.rgb(r * 255, g * 255, b * 255).formatHex();
}

const yTop = d3.scaleLog().domain([10, 331]).range([rowBot[0], rowTop[0]]);
const yMid = d3.scaleLinear().domain([-0.2, 0.9]).range([rowBot[1], rowTop[1]]);
const yBot = d3.scaleLinear().domain([0.1, 1.0]).range([rowBot[2], rowTop[2]]);
const yScales = [yTop, yMid, yBot];
const yMajor = [[10, 100], [0, 0.5], [0.5, 1.0]];
const yMinor = [yTop.ticks(), yMid.ticks(11), yBot.ticks(9)];

const columns = [
  {dens: h3Density, beta: h3Beta, l2: h3L2, l3: h3L3, a: h3ALabels},
  {dens: w5Density, beta: w5Beta, l2: w5L2, l3: w5L3, a: w5ALabels},
  {dens: c3Density, beta: c3Beta, l2: c3L2, l3: c3L3, a: c3ALabels},
  {dens: w1Density, beta: w1Beta, l2: w1L2, l3: w1L3, a: w1ALabels}
];

const defs = svg.append("defs");

columns.forEach((col, ci) => {
  const left = colLeft[ci];
  const x = d3.scaleLog().domain([10 ** xRanges[ci][0], 10 ** xRanges[ci][1]]).range([left, left + W]);
  const N = col.dens.length;
  const color = i => rainbow((i + 0.5) / N);
  const rowSets = [
    [{data: col.dens, dash: null, curve: d3.curveMonotoneX}],
    [{data: col.beta, dash: null, curve: d3.curveLinear}],
    [{data: col.l2, dash: "3.7,1.6", curve: d3.curveMonotoneX}, {data: col.l3, dash: null, curve: d3.curveMonotoneX}]
  ];
  rowSets.forEach((sets, ri) => {
    const y = yScales[ri];
    const top = rowTop[ri], bot = rowBot[ri];
    const cid = "clip" + ci + "_" + ri;
    defs.append("clipPath").attr("id", cid).append("rect")
      .attr("x", left).attr("y", top).attr("width", W).attr("height", bot - top);
    const g = svg.append("g").attr("clip-path", "url(#" + cid + ")");
    sets.forEach(s => {
      const line = d3.line().x(d => x(10 ** d[0])).y(d => y(d[1])).curve(s.curve);
      s.data.forEach((pts, i) => {
        g.append("path").attr("d", line(pts)).attr("fill", "none")
          .attr("stroke", color(i)).attr("stroke-opacity", 0.88)
          .attr("stroke-width", i === N - 1 ? 1.4 : 1.0)
          .attr("stroke-dasharray", s.dash);
      });
    });
    if (ri === 1) {
      svg.append("line").attr("x1", left).attr("x2", left + W).attr("y1", y(0)).attr("y2", y(0))
        .attr("stroke", "#000").attr("stroke-width", 1.8).attr("stroke-dasharray", "1.8,2.7");
    }
    const addAxis = (axis, tx, ty, sw) => {
      const ag = svg.append("g").attr("transform", `translate(${tx},${ty})`).call(axis);
      ag.select(".domain").remove();
      ag.selectAll("line").attr("stroke", "#000").attr("stroke-width", sw);
      ag.selectAll("text").remove();
    };
    addAxis(d3.axisLeft(y).tickValues(yMinor[ri]).tickSize(3.5).tickFormat(""), left, 0, 0.9);
    addAxis(d3.axisLeft(y).tickValues(yMajor[ri]).tickSize(6.5).tickFormat(""), left, 0, 1.2);
    addAxis(d3.axisRight(y).tickValues(yMinor[ri]).tickSize(3.5).tickFormat(""), left + W, 0, 0.9);
    addAxis(d3.axisRight(y).tickValues(yMajor[ri]).tickSize(6.5).tickFormat(""), left + W, 0, 1.2);
    svg.append("text").attr("x", left + W - 4).attr("y", top + 14.5).attr("text-anchor", "end")
      .style("font-size", "15px").text(panelNames[ci]);
    svg.append("rect").attr("x", left).attr("y", top).attr("width", W).attr("height", bot - top)
      .attr("fill", "none").attr("stroke", "#000").attr("stroke-width", 1.5);
  });

  const all = x.ticks();
  const maj = all.filter(v => Math.abs(Math.log10(v) - Math.round(Math.log10(v))) < 1e-6);
  const min = all.filter(v => !maj.includes(v));
  [[d3.axisTop, rowTop[0]], [d3.axisBottom, rowBot[2]]].forEach(([ax, ty]) => {
    [[min, 3.5, 0.9], [maj, 6.5, 1.2]].forEach(([vals, sz, sw]) => {
      const ag = svg.append("g").attr("transform", `translate(0,${ty})`)
        .call(ax(x).tickValues(vals).tickSize(sz).tickFormat(""));
      ag.select(".domain").remove();
      ag.selectAll("line").attr("stroke", "#000").attr("stroke-width", sw);
      ag.selectAll("text").remove();
    });
  });
  xTickExps.forEach(e => {
    const t = svg.append("text").attr("x", x(10 ** e)).attr("y", 330).attr("text-anchor", "middle")
      .style("font-size", "17px");
    t.append("tspan").text("10");
    t.append("tspan").attr("dy", -7).style("font-size", "12px").text(e < 0 ? "\u2212" + (-e) : String(e));
  });
  svg.append("text").attr("x", left + W / 2).attr("y", 350).attr("text-anchor", "middle")
    .style("font-size", "20px").style("font-style", "italic").text("r");

  const idx = [0, Math.floor(N / 2), N - 1];
  col.a.forEach((lab, k) => {
    const t = svg.append("text").attr("x", left + 5).attr("y", rowTop[1] + 13 + k * 13.5)
      .style("font-size", "16.5px").style("fill", color(idx[k])).style("fill-opacity", 0.9);
    t.append("tspan").style("font-style", "italic").text("a");
    t.append("tspan").text(" = " + lab);
  });
});

// y tick labels (first column)
const yl = (y, parts) => {
  const t = svg.append("text").attr("x", 66).attr("y", y + 5.5).attr("text-anchor", "end").style("font-size", "17px");
  t.append("tspan").text(parts[0]);
  if (parts[1]) t.append("tspan").attr("dy", -7).style("font-size", "12px").text(parts[1]);
};
yl(yTop(10), ["10", "1"]);
yl(yTop(100), ["10", "2"]);
yl(yMid(0), ["0.0"]);
yl(yMid(0.5), ["0.5"]);
yl(yBot(0.5), ["0.5"]);
yl(yBot(1.0), ["1.0"]);

// y axis labels
{
  const t = svg.append("text").attr("transform", `translate(25,${(rowTop[0] + rowBot[0]) / 2}) rotate(-90)`)
    .attr("text-anchor", "middle").style("font-size", "20px");
  t.append("tspan").style("font-style", "italic").text("ρr");
  t.append("tspan").attr("dy", -8).style("font-size", "14px").text("3/2");
}
svg.append("text").attr("transform", `translate(33,${(rowTop[2] + rowBot[2]) / 2}) rotate(-90)`)
  .attr("text-anchor", "middle").style("font-size", "20px").text("axis ratios");
{
  // beta = 1 - sigma_t^2 / (2 sigma_r^2), rotated
  const g = svg.append("g").attr("transform", `translate(25.5,124) rotate(-90)`);
  const main = g.append("text").style("font-size", "20px");
  main.append("tspan").style("font-style", "italic").text("β");
  main.append("tspan").attr("dx", 5).text("=");
  main.append("tspan").attr("dx", 5).text("1");
  main.append("tspan").attr("dx", 4).text("\u2212");
  const mw = main.node().getComputedTextLength() + 14 + 5;
  const fs = 15;
  const sigma = (gx, baseY, pre, sub) => {
    const tt = gx.append("text").attr("y", baseY).style("font-size", fs + "px");
    if (pre) tt.append("tspan").text(pre);
    tt.append("tspan").style("font-style", "italic").text("σ");
    const w = tt.node().getComputedTextLength();
    gx.append("text").attr("x", w + 0.5).attr("y", baseY - 4.5).style("font-size", "9.5px").text("2");
    gx.append("text").attr("x", w + 0.5).attr("y", baseY + 3).style("font-size", "9.5px").style("font-style", "italic").text(sub);
    return w + 6;
  };
  const numG = g.append("g"), denG = g.append("g");
  const nw = sigma(numG, -11.5, "", "t");
  const dw = sigma(denG, 3.5, "2", "r");
  const fw = Math.max(nw, dw) + 6;
  const total = mw + fw;
  const x0 = -total / 2;
  main.attr("x", x0);
  const fx = x0 + mw;
  numG.attr("transform", `translate(${fx + (fw - nw) / 2},0)`);
  denG.attr("transform", `translate(${fx + (fw - dw) / 2},0)`);
  g.append("line").attr("x1", fx).attr("x2", fx + fw).attr("y1", -8).attr("y2", -8)
    .attr("stroke", "#000").attr("stroke-width", 0.9);
}

// legend in first bottom panel
{
  const lg = svg.append("g");
  lg.append("rect").attr("x", 77.5).attr("y", 253.5).attr("width", 86).attr("height", 48).attr("rx", 3)
    .attr("fill", "#fff").attr("fill-opacity", 0.8).attr("stroke", "#ccc").attr("stroke-width", 1);
  const entries = [{dash: "3.7,1.6", n: "2", y: 264.5}, {dash: null, n: "3", y: 288.5}];
  entries.forEach(e => {
    lg.append("line").attr("x1", 83).attr("x2", 113).attr("y1", e.y).attr("y2", e.y)
      .attr("stroke", "#000").attr("stroke-width", 1).attr("stroke-dasharray", e.dash);
    const t = lg.append("text").attr("x", 118).attr("y", e.y + 5.5).style("font-size", "17px");
    t.append("tspan").style("font-style", "italic").text("l");
    t.append("tspan").attr("dy", 4).style("font-size", "12px").text(e.n);
    t.append("tspan").attr("dy", -4).text("/");
    t.append("tspan").style("font-style", "italic").text("l");
    t.append("tspan").attr("dy", 4).style("font-size", "12px").text("1");
  });
}
</script></body></html>
